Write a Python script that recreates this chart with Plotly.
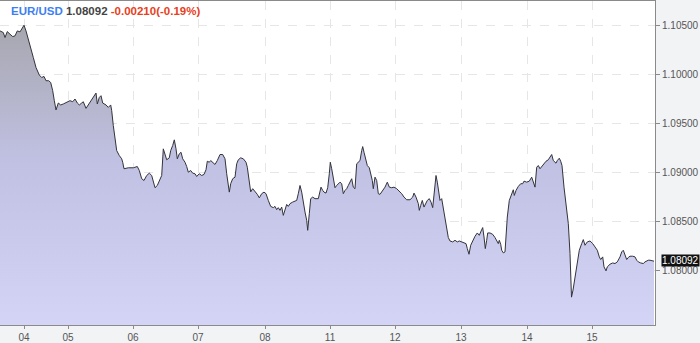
import plotly.graph_objects as go

# time index (chart bar units) and EUR/USD prices
t = [0, 3.3, 5, 7.3, 10, 12.7, 15, 17.3, 20, 21.7, 24, 26, 29.3, 33.3, 36, 39.3, 41.7, 44, 46, 48.7,
     50.7, 52.7, 54.3, 56, 58.3, 60.7, 63.3, 66.7, 70, 72.7, 75, 77.3, 79.3, 81.7, 83.3, 86, 88.3, 91.7, 94.3, 96,
     97.3, 99.3, 101, 102.7, 106, 108.3, 110.7, 111.7, 113.3, 115, 116.7, 119.3, 121.7, 122.7, 124, 128.3, 133.3, 137.3, 139.3, 141.7,
     144, 146.7, 149.3, 151.7, 153.3, 155, 157.3, 160, 161.7, 163.3, 165, 166.7, 169.3, 170.7, 172.7, 174.3, 176, 177.3, 179.3, 181,
     182.7, 185, 186.7, 188.3, 190.7, 192.7, 195, 196.7, 199.3, 201.7, 204, 206, 207.3, 209.3, 210.7, 212.7, 215, 217.3, 220, 222.7,
     225, 226.7, 228.3, 229.3, 230.7, 232.7, 235, 236.7, 238.3, 240.7, 243.3, 246, 247.3, 249.3, 250.7, 252.7, 255, 257.3, 259.3, 261.7,
     264, 266, 268.3, 270.7, 273.3, 275, 276.7, 278.3, 280, 281.7, 283.3, 285, 286.7, 288.3, 290, 292.7, 295, 296.7, 298.3, 300,
     301.7, 303.3, 305, 306.7, 307.7, 309.3, 310.7, 312.7, 315, 318.3, 320, 321, 322.7, 324, 326, 327.7, 329.3, 330.3, 331.7, 333.3,
     335, 336.7, 338.3, 340, 341.7, 343.3, 345, 346.7, 348.3, 350, 351.7, 353.3, 355, 356.7, 358.3, 360, 361.7, 362.7, 364, 366,
     367.3, 369.3, 370.7, 372.3, 373.3, 375, 376.7, 378.3, 380, 381.7, 383.3, 385, 387.3, 389.3, 391.7, 394, 396.7, 399.3, 401.7, 404,
     406.7, 410, 412.7, 414, 416, 418.3, 419.3, 420.7, 422.3, 424, 425.7, 427.3, 429.3, 431, 432.7, 434.3, 436, 437.3, 438.7, 440,
     441.7, 443.3, 445, 446.7, 448.3, 450, 452.7, 455, 457.3, 459.3, 461.7, 463.3, 466, 467.3, 469, 470.7, 472.7, 475, 477.3, 479.3,
     480.7, 482.7, 484, 485.3, 486.7, 487.7, 490, 492.7, 495, 496.7, 498.3, 499.3, 500.7, 501.7, 503.3, 505, 506, 507.3, 509.3, 511.7,
     513.3, 514.3, 516, 518.3, 520.7, 522.7, 524, 526.7, 529.3, 531.7, 533.3, 535, 536.7, 538.3, 540, 541.7, 544, 546, 548.3, 550,
     551.7, 553.3, 556, 557.3, 559.3, 560.7, 562, 564, 566.7, 568.3, 570, 571.5, 573, 575, 576.7, 579.3, 581.7, 583.3, 585, 587.3,
     590, 592.7, 595, 597.3, 599.3, 600.7, 602.7, 604, 606, 607.3, 610, 612.7, 615, 617.3, 620, 621.7, 623.3, 625, 626.7, 628.3,
     630, 632.7, 635, 636.7, 638.3, 640.7, 643.3, 645, 646.7, 648.3, 650, 652.7, 654]

price = [1.10449, 1.10432, 1.10381, 1.10442, 1.10415, 1.10391, 1.10398, 1.10449, 1.10439, 1.10472, 1.10507, 1.10449, 1.10313, 1.10177, 1.10074, 1.09997, 1.09972, 1.09983, 1.09939, 1.09939,
         1.09921, 1.09837, 1.09735, 1.09640, 1.09711, 1.09691, 1.09701, 1.09717, 1.09735, 1.09724, 1.09752, 1.09711, 1.09691, 1.09711, 1.09724, 1.09656, 1.09691, 1.09752, 1.09793, 1.09813,
         1.09701, 1.09768, 1.09786, 1.09711, 1.09691, 1.09666, 1.09691, 1.09633, 1.09480, 1.09327, 1.09224, 1.09173, 1.09140, 1.09105, 1.09038, 1.09048, 1.09048, 1.09061, 1.09020, 1.08936,
         1.08918, 1.08969, 1.08993, 1.08969, 1.08918, 1.08844, 1.08867, 1.08926, 1.08969, 1.09242, 1.09191, 1.09130, 1.09150, 1.09224, 1.09276, 1.09334, 1.09242, 1.09140, 1.09191, 1.09207,
         1.09140, 1.09105, 1.09061, 1.09003, 1.09020, 1.08993, 1.08987, 1.08959, 1.08987, 1.08969, 1.08980, 1.09028, 1.09115, 1.09105, 1.09122, 1.09105, 1.09082, 1.09122, 1.09184, 1.09184,
         1.09140, 1.08987, 1.08867, 1.08799, 1.08885, 1.08936, 1.08952, 1.09089, 1.09130, 1.09150, 1.09140, 1.09105, 1.09054, 1.08918, 1.08801, 1.08834, 1.08809, 1.08776, 1.08740, 1.08783,
         1.08799, 1.08783, 1.08714, 1.08653, 1.08640, 1.08653, 1.08619, 1.08640, 1.08612, 1.08646, 1.08561, 1.08630, 1.08673, 1.08653, 1.08681, 1.08697, 1.08704, 1.08714, 1.08783, 1.08867,
         1.08799, 1.08681, 1.08595, 1.08510, 1.08408, 1.08579, 1.08732, 1.08748, 1.08732, 1.08732, 1.08816, 1.08850, 1.08816, 1.08799, 1.08789, 1.08844, 1.08987, 1.09105, 1.09038, 1.08918,
         1.08844, 1.08867, 1.08885, 1.08901, 1.08885, 1.08783, 1.08816, 1.08834, 1.08867, 1.08901, 1.08936, 1.08850, 1.08834, 1.09089, 1.09105, 1.09122, 1.09224, 1.09265, 1.09207, 1.09140,
         1.09071, 1.09048, 1.08987, 1.08918, 1.08834, 1.08952, 1.08918, 1.08783, 1.08776, 1.08799, 1.08816, 1.08850, 1.08901, 1.08850, 1.08844, 1.08850, 1.08834, 1.08809, 1.08783, 1.08748,
         1.08721, 1.08721, 1.08748, 1.08789, 1.08748, 1.08681, 1.08612, 1.08663, 1.08714, 1.08646, 1.08681, 1.08714, 1.08732, 1.08697, 1.08640, 1.08816, 1.08969, 1.08901, 1.08783, 1.08714,
         1.08732, 1.08630, 1.08510, 1.08408, 1.08334, 1.08299, 1.08289, 1.08306, 1.08289, 1.08299, 1.08289, 1.08289, 1.08272, 1.08221, 1.08163, 1.08255, 1.08306, 1.08347, 1.08381, 1.08357,
         1.08391, 1.08436, 1.08340, 1.08221, 1.08306, 1.08381, 1.08381, 1.08367, 1.08334, 1.08299, 1.08272, 1.08306, 1.08265, 1.08204, 1.08177, 1.08187, 1.08357, 1.08544, 1.08714, 1.08783,
         1.08823, 1.08765, 1.08816, 1.08857, 1.08885, 1.08885, 1.08911, 1.08901, 1.08911, 1.08952, 1.08901, 1.08850, 1.09054, 1.09071, 1.09038, 1.09061, 1.09089, 1.09115, 1.09130, 1.09156,
         1.09184, 1.09122, 1.09095, 1.09122, 1.09146, 1.09115, 1.09071, 1.08850, 1.08646, 1.08477, 1.08170, 1.07724, 1.07796, 1.07932, 1.08068, 1.08204, 1.08272, 1.08313, 1.08255, 1.08289,
         1.08299, 1.08272, 1.08238, 1.08204, 1.08136, 1.08109, 1.08136, 1.08034, 1.07993, 1.08034, 1.08061, 1.08074, 1.08068, 1.08085, 1.08136, 1.08187, 1.08204, 1.08153, 1.08109, 1.08130,
         1.08143, 1.08143, 1.08136, 1.08102, 1.08085, 1.08074, 1.08068, 1.08085, 1.08095, 1.08102, 1.08102, 1.08095, 1.08092]

day_ticks = [24, 68, 133, 198, 265, 330, 395, 461, 527, 592]
day_labels = ["04", "05", "06", "07", "08", "11", "12", "13", "14", "15"]
price_ticks = [1.080, 1.085, 1.090, 1.095, 1.100, 1.105]

symbol = "EUR/USD"
change = -0.00210
change_pct = -0.19

y_lo, y_hi = 1.07439, 1.10755
last = price[-1]

fig = go.Figure()
fig.add_trace(go.Scatter(
    x=t, y=price, mode="lines",
    line=dict(color="#33333b", width=1),
    fill="tozeroy",
    fillgradient=dict(type="vertical", start=y_lo, stop=1.1055,
                      colorscale=[[0, "#d4d4f7"], [0.55, "#c0c0e2"], [1, "#a6a6ae"]]),
    hoverinfo="skip", showlegend=False,
))
# last-price marker arrow
fig.add_trace(go.Scatter(
    x=[659], y=[last], mode="markers",
    marker=dict(symbol="triangle-left", size=8, color="#111111"),
    cliponaxis=False, showlegend=False, hoverinfo="skip",
))

font_fam = "Liberation Sans, Arial, sans-serif"
fig.update_layout(
    width=700, height=343,
    margin=dict(l=0, r=45, t=1, b=18),
    paper_bgcolor="#f2f3f5",
    plot_bgcolor="#ffffff",
    font=dict(family=font_fam, size=10, color="#555555"),
    xaxis=dict(
        range=[0, 655], tickmode="array", tickvals=day_ticks, ticktext=day_labels,
        showgrid=True, gridcolor="#e6e6e6", griddash="dash", gridwidth=1,
        showline=True, linecolor="#8a8a8a", linewidth=1, mirror=True,
        ticks="outside", ticklen=3, tickcolor="#8a8a8a",
        tickfont=dict(size=10, color="#555555"), zeroline=False,
    ),
    yaxis=dict(
        side="right", range=[y_lo, y_hi], tickmode="array", tickvals=price_ticks,
        ticktext=[f"{v:.5f}" for v in price_ticks],
        showgrid=True, gridcolor="#e6e6e6", griddash="dash", gridwidth=1,
        showline=True, linecolor="#8a8a8a", linewidth=1, mirror=True,
        ticks="outside", ticklen=4, tickcolor="#8a8a8a",
        tickfont=dict(size=10, color="#555555"), zeroline=False,
    ),
    annotations=[
        dict(xref="paper", yref="paper", x=0.0135, y=0.995, xanchor="left", yanchor="top",
             showarrow=False, align="left",
             text=(f"<span style='color:#3d7ff0'>{symbol}</span> "
                   f"<span style='color:#444444'>{last:.5f}</span> "
                   f"<span style='color:#e8401c'>{change:.5f}({change_pct:.2f}%)</span>"),
             font=dict(family=font_fam, size=11.5, weight="bold")),
        dict(xref="paper", yref="y", x=1, y=last, xanchor="left", yanchor="middle",
             xshift=6, yshift=1, showarrow=False, text=f"{last:.5f}",
             bgcolor="#111111", borderpad=0,
             font=dict(family=font_fam, size=10, color="#ffffff")),
    ],
)

fig.write_html("out.html")
